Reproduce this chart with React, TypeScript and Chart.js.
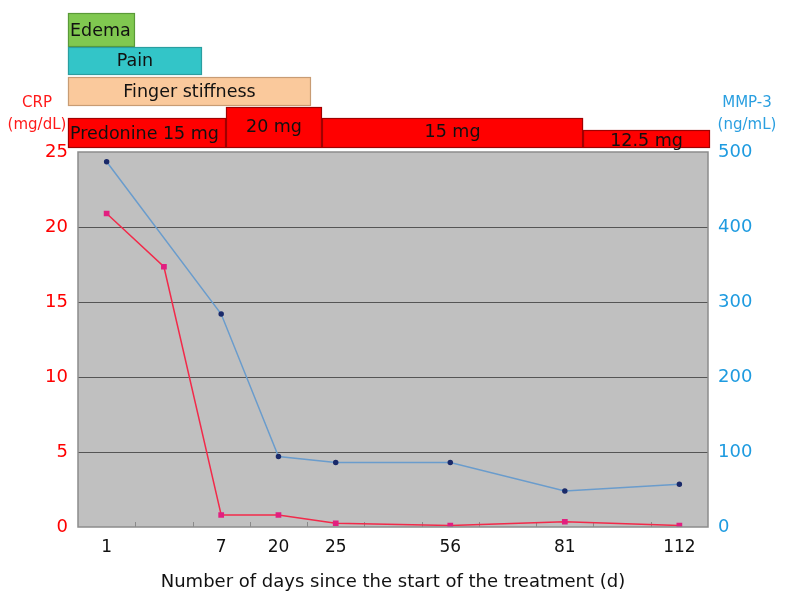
import React, { useEffect, useRef } from "react";
import { Chart, registerables } from "chart.js";

Chart.register(...registerables);

const dayLabels = ["1", "", "7", "20", "25", "", "56", "", "81", "", "112"];
const mmp3Values: (number | null)[] = [487, null, 284, 94, 86, null, 86, null, 48, null, 57];
const crpValues: (number | null)[] = [20.9, 17.35, 0.8, 0.8, 0.25, null, 0.1, null, 0.35, null, 0.1];

// symptom / treatment periods, in category-index units on the x axis
const periodNames = ["Edema", "Pain", "Finger stiffness", "Predonine 15 mg", "20 mg", "15 mg", "12.5 mg"];
const periodStart = [-0.675, -0.675, -0.675, -0.675, 2.084, 3.76, 8.318];
const periodEnd = [0.495, 1.665, 3.568, 2.084, 3.76, 8.318, 10.535];

const FONT = "DejaVu Sans";

const boxStyles = [
  { top: 13, bottom: 47, fill: "#80c850", stroke: "#5a9a38", align: "left", ty: 31 },
  { top: 47, bottom: 75, fill: "#33c5c8", stroke: "#2a9ea0", align: "center", ty: 61 },
  { top: 77, bottom: 106, fill: "#fac99c", stroke: "#c89c74", align: "center", ty: 92 },
  { top: 118, bottom: 148, fill: "#ff0000", stroke: "#a00000", align: "left", ty: 134 },
  { top: 107, bottom: 148, fill: "#ff0000", stroke: "#a00000", align: "center", ty: 127 },
  { top: 118, bottom: 148, fill: "#ff0000", stroke: "#a00000", align: "center", ty: 132 },
  { top: 130, bottom: 148, fill: "#ff0000", stroke: "#a00000", align: "center", ty: 141 },
];

const overlayPlugin = {
  id: "overlay",
  beforeDatasetsDraw(chart: any) {
    const { ctx, chartArea, scales } = chart;
    const x = scales.x;
    ctx.save();
    ctx.strokeStyle = "#8a8a8a";
    ctx.lineWidth = 1;
    for (let i = 0; i < dayLabels.length - 1; i++) {
      const px = Math.round(x.getPixelForValue(i + 0.5)) + 0.5;
      ctx.beginPath();
      ctx.moveTo(px, chartArea.bottom);
      ctx.lineTo(px, chartArea.bottom - 5);
      ctx.stroke();
    }
    ctx.restore();
  },
  afterDraw(chart: any) {
    const { ctx, chartArea, scales } = chart;
    const x = scales.x;
    ctx.save();
    ctx.strokeStyle = "#8c8c8c";
    ctx.lineWidth = 1.5;
    ctx.strokeRect(chartArea.left, chartArea.top, chartArea.right - chartArea.left, chartArea.bottom - chartArea.top);

    ctx.font = `17.5px "${FONT}"`;
    ctx.textBaseline = "middle";
    for (let i = 0; i < periodNames.length; i++) {
      const s = boxStyles[i];
      const x0 = x.getPixelForValue(periodStart[i]);
      const x1 = x.getPixelForValue(periodEnd[i]);
      ctx.fillStyle = s.fill;
      ctx.fillRect(x0, s.top, x1 - x0, s.bottom - s.top);
      ctx.strokeStyle = s.stroke;
      ctx.lineWidth = 1.2;
      ctx.strokeRect(x0 + 0.5, s.top + 0.5, x1 - x0 - 1, s.bottom - s.top - 1);
    }
    ctx.fillStyle = "#111";
    for (let i = 0; i < periodNames.length; i++) {
      const s = boxStyles[i];
      const x0 = x.getPixelForValue(periodStart[i]);
      const x1 = x.getPixelForValue(periodEnd[i]);
      if (s.align === "left") {
        ctx.textAlign = "left";
        ctx.fillText(periodNames[i], x0 + 2, s.ty);
      } else {
        ctx.textAlign = "center";
        ctx.fillText(periodNames[i], (x0 + x1) / 2, s.ty);
      }
    }

    ctx.font = `15px "${FONT}"`;
    ctx.textAlign = "center";
    ctx.fillStyle = "#ff1a1a";
    ctx.fillText("CRP", 37, 103);
    ctx.fillText("(mg/dL)", 37, 125);
    ctx.fillStyle = "#2a9fe0";
    ctx.fillText("MMP-3", 747, 103);
    ctx.fillText("(ng/mL)", 747, 125);
    ctx.restore();
  },
};

export default function App() {
  const ref = useRef<HTMLCanvasElement | null>(null);
  useEffect(() => {
    document.body.style.margin = "0";
    const canvas = ref.current!;
    const chart = new Chart(canvas, {
      type: "line",
      data: {
        labels: dayLabels,
        datasets: [
          {
            label: "MMP-3",
            data: mmp3Values,
            yAxisID: "y2",
            borderColor: "#6a9ccc",
            borderWidth: 1.5,
            pointBackgroundColor: "#1a2a6a",
            pointBorderColor: "#1a2a6a",
            pointRadius: 2,
            pointStyle: "circle",
            spanGaps: true,
            tension: 0,
          },
          {
            label: "CRP",
            data: crpValues,
            yAxisID: "y",
            borderColor: "#f22a4a",
            borderWidth: 1.5,
            pointBackgroundColor: "#e21f80",
            pointBorderColor: "#e21f80",
            pointRadius: 3,
            pointStyle: "rect",
            spanGaps: true,
            tension: 0,
          },
        ],
      },
      options: {
        animation: false,
        responsive: false,
        maintainAspectRatio: false,
        layout: { padding: { top: 152, left: 0, right: 0, bottom: 0 } },
        plugins: { legend: { display: false }, tooltip: { enabled: false } },
        scales: {
          x: {
            type: "category",
            offset: true,
            grid: { display: false },
            border: { display: false },
            ticks: {
              color: "#111",
              font: { family: FONT, size: 17 },
              padding: 2,
              autoSkip: false,
              maxRotation: 0,
            },
            title: {
              display: true,
              text: "Number of days since the start of the treatment (d)",
              color: "#111",
              font: { family: FONT, size: 18 },
              padding: { top: 4, bottom: 20 },
            },
            afterFit(scale: any) {
              scale.height = 86;
            },
          },
          y: {
            position: "left",
            min: 0,
            max: 25,
            ticks: {
              stepSize: 5,
              color: "#ff0000",
              font: { family: FONT, size: 18 },
              padding: 10,
            },
            grid: {
              color: (c: any) => (c.tick && (c.tick.value === 0 || c.tick.value === 25) ? "rgba(0,0,0,0)" : "#555555"),
              lineWidth: 1,
              drawTicks: false,
            },
            border: { display: false },
            afterFit(scale: any) {
              scale.width = 78;
            },
          },
          y2: {
            position: "right",
            min: 0,
            max: 500,
            ticks: {
              stepSize: 100,
              color: "#1e9be0",
              font: { family: FONT, size: 18 },
              padding: 10,
            },
            grid: { display: false, drawTicks: false },
            border: { display: false },
            afterFit(scale: any) {
              scale.width = 78;
            },
          },
        },
      },
      plugins: [
        {
          id: "bg",
          beforeDraw(chart: any) {
            const { ctx, chartArea } = chart;
            ctx.save();
            ctx.fillStyle = "#ffffff";
            ctx.fillRect(0, 0, chart.width, chart.height);
            ctx.fillStyle = "#c0c0c0";
            ctx.fillRect(chartArea.left, chartArea.top, chartArea.right - chartArea.left, chartArea.bottom - chartArea.top);
            ctx.restore();
          },
        },
        overlayPlugin,
      ],
    } as any);
    return () => chart.destroy();
  }, []);
  return (
    <div style={{ width: 786, height: 613 }}>
      <canvas ref={ref} width={786} height={613} style={{ display: "block", width: 786, height: 613 }} />
    </div>
  );
}
